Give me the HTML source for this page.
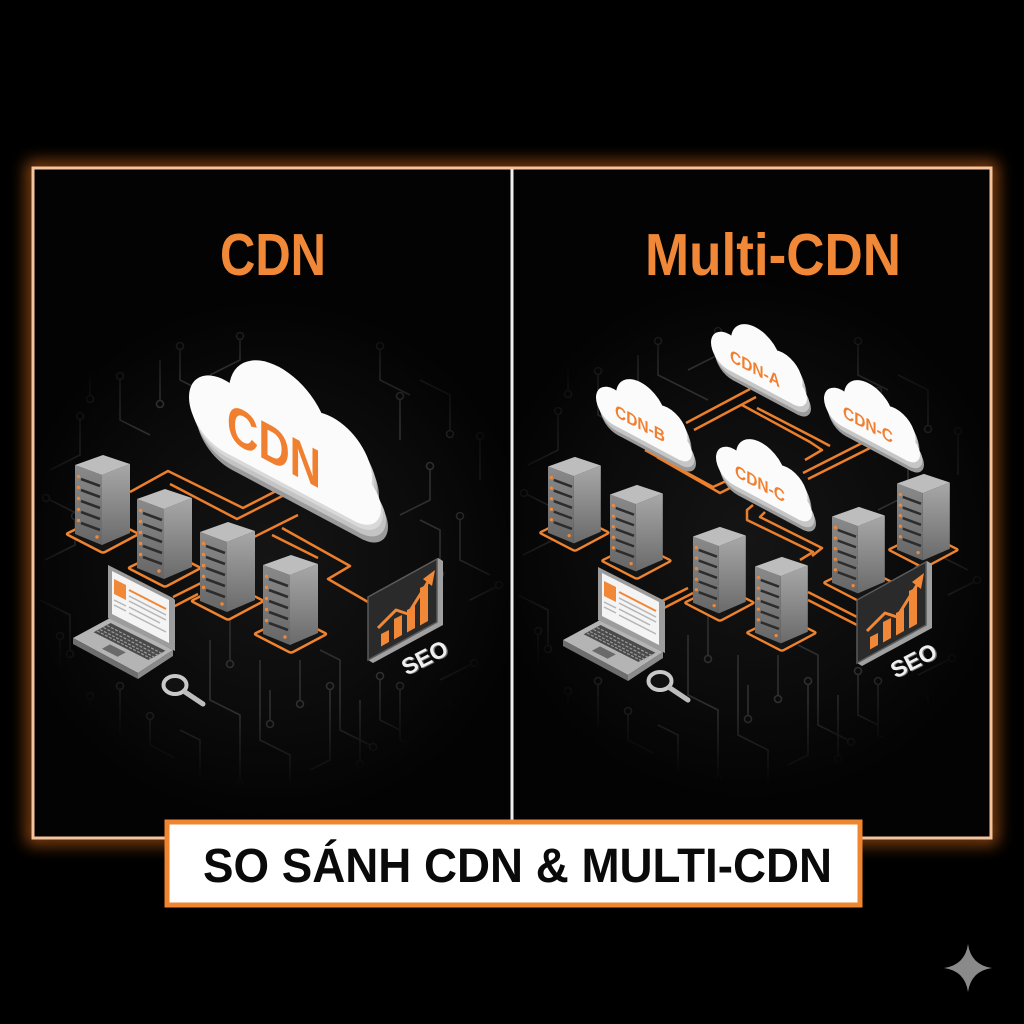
<!DOCTYPE html>
<html><head><meta charset="utf-8"><style>
html,body{margin:0;padding:0;background:#000;width:1024px;height:1024px;overflow:hidden}
svg{display:block}
</style></head><body>
<svg width="1024" height="1024" viewBox="0 0 1024 1024" xmlns="http://www.w3.org/2000/svg">
<defs>
<filter id="blur" x="-20%" y="-20%" width="140%" height="140%"><feGaussianBlur stdDeviation="8"/></filter>
<radialGradient id="bgL" cx="270" cy="560" r="260" gradientUnits="userSpaceOnUse">
<stop offset="0" stop-color="#151515"/><stop offset="0.6" stop-color="#0b0b0b"/><stop offset="1" stop-color="#030303"/></radialGradient>
<radialGradient id="bgR" cx="750" cy="540" r="260" gradientUnits="userSpaceOnUse">
<stop offset="0" stop-color="#151515"/><stop offset="0.6" stop-color="#0b0b0b"/><stop offset="1" stop-color="#030303"/></radialGradient>
<linearGradient id="gR" x1="0" y1="0" x2="0" y2="1"><stop offset="0" stop-color="#a8a8a8"/><stop offset="1" stop-color="#6a6a6a"/></linearGradient>
<linearGradient id="gL" x1="0" y1="0" x2="0" y2="1"><stop offset="0" stop-color="#8a8a8a"/><stop offset="1" stop-color="#666"/></linearGradient>
<radialGradient id="fadeL" cx="270" cy="540" r="250" gradientUnits="userSpaceOnUse"><stop offset="0" stop-color="#fff"/><stop offset="0.7" stop-color="#fff"/><stop offset="1" stop-color="#000"/></radialGradient>
<mask id="mk"><rect x="0" y="0" width="520" height="1024" fill="url(#fadeL)"/></mask>

<g id="srv">
 <path d="M-7,80 L26,64 Q28,63 30,64 L62,80 Q64,81 62,82 L30,99 Q28,100 26,99 L-7,82 Q-9,81 -7,80Z" fill="#141414" stroke="#ee8330" stroke-width="2.5"/>
 <path d="M27,22 L55,11 L55,80 L27,92Z" fill="url(#gR)"/>
 <path d="M0,12 L27,22 L27,92 L0,81Z" fill="url(#gL)"/>
 <path d="M0,12 L28,2 L55,11 L27,22Z" fill="#bdbdbd"/>
 <g stroke="#2c2c2c" stroke-width="2.6">
  <line x1="6" y1="26" x2="25" y2="33"/><line x1="6" y1="37" x2="25" y2="44"/>
  <line x1="6" y1="48" x2="25" y2="55"/><line x1="6" y1="59" x2="25" y2="66"/>
  <line x1="6" y1="70" x2="25" y2="77"/></g>
 <g fill="#f08838">
  <circle cx="3.5" cy="23.5" r="1.7"/><circle cx="3.5" cy="34.5" r="1.7"/><circle cx="3.5" cy="45.5" r="1.7"/>
  <circle cx="3.5" cy="56.5" r="1.7"/><circle cx="3.5" cy="67.5" r="1.7"/><circle cx="22" cy="84" r="1.7"/></g>
</g>

<g id="cloud">
 <circle cx="38" cy="78" r="36"/><circle cx="92" cy="50" r="50"/><circle cx="145" cy="62" r="40"/>
 <circle cx="168" cy="88" r="26"/><rect x="38" y="60" width="132" height="54"/>
</g>

<g id="laptop">
 <polygon points="73,638 110,618 173,650 138,673" fill="#b4b4b4"/>
 <polygon points="73,638 138,673 138,679 73,644" fill="#6e6e6e"/>
 <polygon points="138,673 173,650 173,656 138,679" fill="#8a8a8a"/>
 <polygon points="110.6,623 165.4,650.8 148.4,660 93.6,632.2" fill="#4a4a4a"/>
 <g stroke="#9a9a9a" stroke-width="1.2" stroke-dasharray="3 1.5">
  <line x1="107" y1="625.5" x2="162" y2="653.5"/><line x1="103.5" y1="627.5" x2="158.5" y2="655.5"/>
  <line x1="100" y1="629.5" x2="155" y2="657.5"/><line x1="97" y1="631" x2="152" y2="659"/></g>
 <polygon points="110,644.4 125.8,652.4 117.6,656.8 101.9,648.8" fill="#6a6a6a"/>
 <polygon points="108,565 173,598 175,600 175,651 173,650 108,618" fill="#9c9c9c"/>
 <polygon points="112,571 169,600 169,643 112,614" fill="#f4f4f4"/>
 <polygon points="114,579 126,585 126,600 114,594" fill="#f08838"/>
 <line x1="129" y1="590" x2="166" y2="609" stroke="#f08838" stroke-width="2"/>
 <g stroke="#b5b5b5" stroke-width="1.5">
  <line x1="129" y1="596" x2="166" y2="615"/><line x1="129" y1="601" x2="166" y2="620"/>
  <line x1="114" y1="600" x2="126" y2="606"/><line x1="114" y1="605" x2="126" y2="611"/>
  <line x1="129" y1="607" x2="160" y2="623"/><line x1="129" y1="613" x2="166" y2="632"/></g>
</g>

<g id="seo">
 <polygon points="368,597 438,558 443,561 443,625 373,663 368,660" fill="#a0a0a0"/>
 <polygon points="368,597 437,559 437,622 368,660" fill="#2a2a2a" stroke="#5a5a5a" stroke-width="1.5"/>
 <g fill="#f08838">
  <polygon points="381,634 389,630 389,642 381,646.5"/>
  <polygon points="394,619 402,615 402,635 394,639.5"/>
  <polygon points="407,610 415,606 415,628 407,632.5"/>
  <polygon points="420,588 428,584 428,621 420,625.5"/></g>
 <polyline points="378,628 396,610 408,614 428,582" fill="none" stroke="#f08838" stroke-width="3" stroke-linejoin="round"/>
 <polygon points="435,570 423,579 432,586" fill="#f08838"/>
 <text x="426" y="666" transform="rotate(-27 426 658)" text-anchor="middle" font-family="Liberation Sans, sans-serif" font-weight="bold" font-size="23" fill="#6a6a6a">SEO</text>
 <text x="425" y="665" transform="rotate(-27 426 658)" text-anchor="middle" font-family="Liberation Sans, sans-serif" font-weight="bold" font-size="23" fill="#efefef">SEO</text>
</g>

<g id="traces" fill="none" stroke="#2f2f2f" stroke-width="1.6">
 <path d="M50,470 L80,455 L80,420"/><circle cx="80" cy="416" r="3.5"/>
 <path d="M45,560 L75,545 L75,520"/><circle cx="75" cy="516" r="3.5"/>
 <path d="M40,600 L70,615 L70,650"/><circle cx="70" cy="654" r="3.5"/>
 <path d="M90,700 L90,740 L60,755"/><circle cx="90" cy="696" r="3.5"/>
 <path d="M120,690 L120,760 L150,775 L150,800"/><circle cx="120" cy="686" r="3.5"/>
 <path d="M150,720 L150,745 L175,758"/><circle cx="150" cy="716" r="3.5"/>
 <path d="M210,640 L210,700 L240,715 L240,780"/><circle cx="240" cy="784" r="3.5"/>
 <path d="M230,620 L230,660"/><circle cx="230" cy="664" r="3.5"/>
 <path d="M260,660 L260,740 L290,755 L290,790"/><circle cx="290" cy="794" r="3.5"/>
 <path d="M300,660 L300,700"/><circle cx="300" cy="704" r="3.5"/>
 <path d="M320,650 L340,660 L340,730 L370,745"/><circle cx="373" cy="747" r="3.5"/>
 <path d="M360,700 L360,760"/><circle cx="360" cy="764" r="3.5"/>
 <path d="M400,690 L400,740 L430,755 L430,790"/><circle cx="400" cy="686" r="3.5"/>
 <path d="M440,680 L470,665"/><circle cx="474" cy="663" r="3.5"/>
 <path d="M450,700 L450,750"/><circle cx="450" cy="754" r="3.5"/>
 <path d="M470,600 L496,587"/><circle cx="499" cy="585" r="3.5"/>
 <path d="M460,520 L460,560 L490,575"/><circle cx="460" cy="516" r="3.5"/>
 <path d="M430,470 L430,500 L400,515"/><circle cx="430" cy="466" r="3.5"/>
 <path d="M400,400 L400,440"/><circle cx="400" cy="396" r="3.5"/>
 <path d="M420,380 L450,395 L450,430"/><circle cx="450" cy="434" r="3.5"/>
 <path d="M120,380 L120,420 L150,435"/><circle cx="120" cy="376" r="3.5"/>
 <path d="M160,360 L160,400"/><circle cx="160" cy="404" r="3.5"/>
 <path d="M90,370 L90,395"/><circle cx="90" cy="399" r="3.5"/>
 <path d="M240,340 L240,360 L210,375"/><circle cx="240" cy="336" r="3.5"/>
 <path d="M180,350 L180,380 L230,405"/><circle cx="180" cy="346" r="3.5"/>
 <path d="M380,350 L380,380 L410,395"/><circle cx="380" cy="346" r="3.5"/>
 <path d="M330,690 L330,760 L310,770"/><circle cx="330" cy="686" r="3.5"/>
 <path d="M480,440 L480,480"/><circle cx="480" cy="436" r="3.5"/>
 <path d="M200,780 L200,740 L180,730"/><circle cx="200" cy="784" r="3.5"/>
 <path d="M40,680 L60,670 L60,640"/><circle cx="60" cy="636" r="3.5"/>
 <path d="M470,720 L490,730 L490,770"/><circle cx="490" cy="774" r="3.5"/>
 <path d="M50,500 L100,525"/><circle cx="46" cy="498" r="3.5"/>
 <path d="M420,520 L440,530 L440,570"/><circle cx="440" cy="574" r="3.5"/>
 <path d="M270,690 L270,720"/><circle cx="270" cy="724" r="3.5"/>
 <path d="M380,680 L380,720 L400,730"/><circle cx="380" cy="676" r="3.5"/>
</g>
</defs>

<!-- frame glow -->
<rect x="33" y="168" width="958" height="670" fill="none" stroke="#e0701a" stroke-width="12" filter="url(#blur)" opacity="0.7"/>
<rect x="34" y="169" width="477" height="668" fill="url(#bgL)"/>
<rect x="513" y="169" width="477" height="668" fill="url(#bgR)"/>

<g mask="url(#mk)"><use href="#traces"/></g>
<g transform="translate(478,-5)" mask="url(#mk)"><use href="#traces"/></g>

<rect x="33" y="168" width="958" height="670" fill="none" stroke="#f6c49c" stroke-width="3"/>
<line x1="512" y1="169" x2="512" y2="824" stroke="#eeeeee" stroke-width="3"/>

<!-- titles -->
<text x="220" y="275" font-family="Liberation Sans, sans-serif" font-weight="bold" font-size="59" fill="#f08838" textLength="106" lengthAdjust="spacingAndGlyphs">CDN</text>
<text x="645" y="275" font-family="Liberation Sans, sans-serif" font-weight="bold" font-size="59" fill="#f08838" textLength="256" lengthAdjust="spacingAndGlyphs">Multi-CDN</text>

<!-- LEFT connectors -->
<g fill="none" stroke="#ec7f2c" stroke-width="2.5" stroke-linejoin="round">
 <path d="M130,492 L168,471 L243,508 L280,489"/>
 <path d="M170,484 L237,519 L300,487"/>
 <path d="M252,538 L298,515"/>
 <path d="M282,528 L350,566 L328,579 L368,602"/>
 <path d="M272,535 L318,558"/>
 <path d="M173,597 L201,583"/>
 <path d="M173,607 L198,594"/>
</g>

<!-- LEFT servers -->
<use href="#srv" transform="translate(75,453)"/>
<use href="#srv" transform="translate(137,487)"/>
<use href="#srv" transform="translate(200,520)"/>
<use href="#laptop"/>
<use href="#srv" transform="translate(263,553)"/>
<use href="#seo"/>
<!-- magnifier -->
<ellipse cx="175" cy="685" rx="11.5" ry="9" fill="#111" stroke="#c9c9c9" stroke-width="4"/>
<line x1="185" y1="692" x2="203" y2="704" stroke="#bdbdbd" stroke-width="5" stroke-linecap="round"/>

<!-- big cloud -->
<g transform="translate(187,318) skewY(28)">
 <use href="#cloud" fill="#9a9a9a" transform="translate(7,14)"/>
 <use href="#cloud" fill="#c4c4c4" transform="translate(5,9)"/>
 <use href="#cloud" fill="#d9d9d9" transform="translate(2,4)"/>
 <use href="#cloud" fill="#fbfbfb"/>
 <text x="40" y="100" font-family="Liberation Sans, sans-serif" font-weight="bold" font-size="54" fill="#f08030" textLength="94" lengthAdjust="spacingAndGlyphs">CDN</text>
</g>

<!-- RIGHT connectors -->
<g fill="none" stroke="#ec7f2c" stroke-width="2.5" stroke-linejoin="round">
 <path d="M645,450 L713,487 L735,477"/>
 <path d="M657,457 L720,493 L740,483"/>
 <path d="M686,423 L750,389"/>
 <path d="M694,430 L756,397"/>
 <path d="M742,405 L810,442 L822,450 L805,460"/>
 <path d="M757,408 L815,438 L830,446"/>
 <path d="M868,440 L803,473"/>
 <path d="M872,447 L808,479"/>
 <path d="M753,505 L747,510 L747,520 L813,552 L800,560"/>
 <path d="M765,512 L760,517 L822,548 L812,556"/>
 <path d="M662,609 L693,593"/>
 <path d="M662,601 L688,588"/>
 <path d="M808,592 L857,617"/>
 <path d="M808,600 L857,625"/>
</g>

<!-- right clouds -->
<g font-family="Liberation Sans, sans-serif" font-weight="bold" font-size="34" fill="#f08030">
<g transform="translate(710,303) skewY(28) scale(0.5)">
 <use href="#cloud" fill="#9a9a9a" transform="translate(8,16)"/><use href="#cloud" fill="#c6c6c6" transform="translate(5,9)"/><use href="#cloud" fill="#fbfbfb"/>
 <text x="40" y="95" textLength="100" lengthAdjust="spacingAndGlyphs">CDN-A</text></g>
<g transform="translate(595,358) skewY(28) scale(0.5)">
 <use href="#cloud" fill="#9a9a9a" transform="translate(8,16)"/><use href="#cloud" fill="#c6c6c6" transform="translate(5,9)"/><use href="#cloud" fill="#fbfbfb"/>
 <text x="40" y="95" textLength="100" lengthAdjust="spacingAndGlyphs">CDN-B</text></g>
<g transform="translate(823,359) skewY(28) scale(0.5)">
 <use href="#cloud" fill="#9a9a9a" transform="translate(8,16)"/><use href="#cloud" fill="#c6c6c6" transform="translate(5,9)"/><use href="#cloud" fill="#fbfbfb"/>
 <text x="40" y="95" textLength="100" lengthAdjust="spacingAndGlyphs">CDN-C</text></g>
</g>

<!-- RIGHT servers -->
<use href="#srv" transform="translate(548,455) scale(0.96)"/>
<use href="#srv" transform="translate(897,472) scale(0.96)"/>
<use href="#srv" transform="translate(610,483) scale(0.96)"/>
<use href="#srv" transform="translate(832,505) scale(0.96)"/>
<use href="#laptop" transform="translate(490,2)"/>
<use href="#srv" transform="translate(693,525) scale(0.96)"/>
<use href="#srv" transform="translate(755,555) scale(0.96)"/>
<use href="#seo" transform="translate(489,3)"/>
<ellipse cx="660" cy="681" rx="11.5" ry="9" fill="#111" stroke="#c9c9c9" stroke-width="4"/>
<line x1="670" y1="688" x2="688" y2="700" stroke="#bdbdbd" stroke-width="5" stroke-linecap="round"/>

<!-- center CDN-C cloud (in front of lines) -->
<g transform="translate(715,418) skewY(28) scale(0.5)" font-family="Liberation Sans, sans-serif" font-weight="bold" font-size="34" fill="#f08030">
 <use href="#cloud" fill="#9a9a9a" transform="translate(8,16)"/><use href="#cloud" fill="#c6c6c6" transform="translate(5,9)"/><use href="#cloud" fill="#fbfbfb"/>
 <text x="40" y="95" textLength="100" lengthAdjust="spacingAndGlyphs">CDN-C</text></g>

<!-- bottom label -->
<rect x="167" y="822" width="693" height="83" fill="#ffffff" stroke="#f08530" stroke-width="5"/>
<text x="203" y="882" font-family="Liberation Sans, sans-serif" font-weight="bold" font-size="48" fill="#0a0a0a" textLength="629" lengthAdjust="spacingAndGlyphs">SO SÁNH CDN &amp; MULTI-CDN</text>

<!-- sparkle -->
<path d="M968,944 Q971,965 992,968 Q971,971 968,992 Q965,971 944,968 Q965,965 968,944Z" fill="#8a8a8a"/>
</svg>
</body></html>
